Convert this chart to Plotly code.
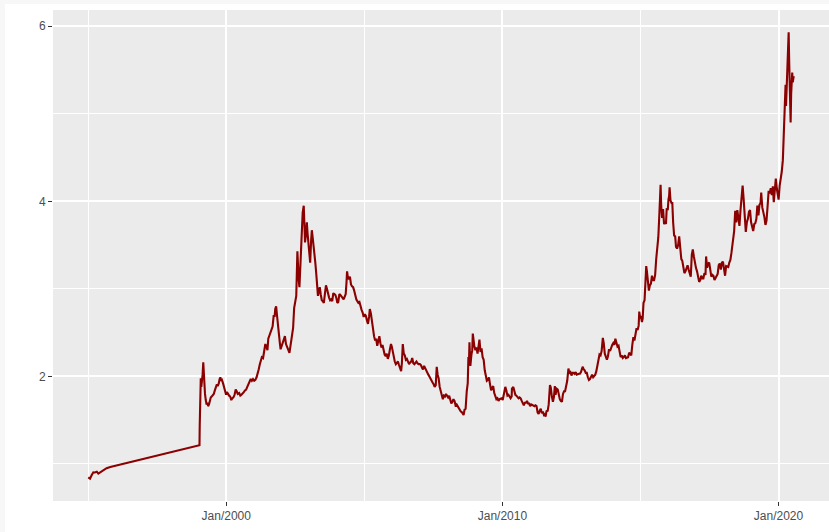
import plotly.graph_objects as go
import pandas as pd

# ---- data: USD/BRL exchange rate (date parts per year, and values) ----
years = [1995, 1999, 2000, 2001, 2002, 2003, 2004, 2005, 2006, 2007, 2008, 2009,
         2010, 2011, 2012, 2013, 2014, 2015, 2016, 2017, 2018, 2019, 2020]

days = {}
rate = {}
days[1995] = ["01-02","01-25","02-17","03-10","03-30","04-25","05-15","06-10","07-20","09-01","10-20"]
rate[1995] = [0.846,0.832,0.874,0.905,0.903,0.912,0.889,0.905,0.935,0.952,0.966]
days[1999] = ["01-04","01-12","01-15","01-20","01-29","02-05","02-12","02-22","03-03","03-10","03-18","03-26","04-05","04-16","04-28","05-06","05-18","05-28","06-10","06-22","07-05","07-20","08-03","08-16","08-30","09-10","09-24","10-05","10-15","10-25","11-05","11-20","12-03","12-15","12-30"]
rate[1999] = [1.210,1.215,1.43,1.60,1.98,1.88,1.93,2.02,2.16,2.02,1.90,1.80,1.73,1.68,1.70,1.66,1.68,1.72,1.76,1.77,1.78,1.80,1.84,1.89,1.91,1.89,1.92,1.97,1.99,1.95,1.96,1.92,1.88,1.83,1.79]
days[2000] = ["01-10","01-25","02-08","02-22","03-08","03-22","04-05","04-20","05-05","05-18","06-01","06-20","07-05","07-20","08-05","08-20","09-05","09-20","10-05","10-20","11-05","11-20","12-05","12-20"]
rate[2000] = [1.82,1.79,1.78,1.77,1.73,1.75,1.76,1.79,1.85,1.83,1.80,1.81,1.78,1.79,1.80,1.82,1.84,1.85,1.88,1.91,1.93,1.97,1.95,1.97]
days[2001] = ["01-05","01-20","02-05","02-20","03-05","03-20","04-02","04-16","05-02","05-16","06-01","06-15","06-29","07-10","07-25","08-08","08-22","09-05","09-20","10-02","10-10","10-22","11-01","11-15","11-28","12-10","12-20"]
rate[2001] = [1.95,1.96,1.99,2.03,2.08,2.14,2.18,2.22,2.21,2.32,2.37,2.34,2.30,2.43,2.47,2.50,2.52,2.57,2.70,2.68,2.77,2.80,2.71,2.56,2.50,2.38,2.31]
days[2002] = ["01-05","01-20","02-05","02-15","03-01","03-15","04-02","04-16","05-02","05-16","06-03","06-17","07-01","07-15","07-30","08-05","08-15","08-26","09-05","09-16","09-27","10-08","10-22","10-31","11-08","11-20","12-02","12-12","12-23"]
rate[2002] = [2.36,2.40,2.44,2.46,2.37,2.33,2.30,2.27,2.38,2.48,2.55,2.78,2.86,2.92,3.43,3.15,3.12,3.02,3.22,3.40,3.80,3.87,3.95,3.64,3.53,3.62,3.76,3.63,3.51]
days[2003] = ["01-06","01-15","01-28","02-06","02-18","03-03","03-12","03-24","04-03","04-15","04-28","05-12","05-22","06-05","06-18","07-01","07-15","07-30","08-12","08-25","09-08","09-22","10-06","10-20","11-03","11-17","12-01","12-15","12-29"]
rate[2003] = [3.33,3.30,3.56,3.67,3.58,3.49,3.45,3.30,3.20,2.98,2.92,2.98,3.02,2.93,2.87,2.86,2.84,2.95,3.04,3.00,2.94,2.90,2.87,2.88,2.86,2.95,2.94,2.93,2.89]
days[2004] = ["01-09","01-22","02-05","02-19","03-04","03-18","04-01","04-15","04-29","05-10","05-17","05-28","06-10","06-24","07-08","07-22","08-05","08-19","09-02","09-16","09-30","10-14","10-28","11-11","11-25","12-09","12-23"]
rate[2004] = [2.84,2.85,2.94,2.93,2.91,2.90,2.88,2.91,2.94,3.08,3.20,3.13,3.11,3.14,3.05,3.03,3.02,2.98,2.92,2.88,2.86,2.84,2.85,2.78,2.76,2.73,2.68]
days[2005] = ["01-07","01-21","02-04","02-18","03-04","03-14","03-28","04-11","04-25","05-09","05-23","06-06","06-20","07-04","07-18","08-01","08-15","08-29","09-12","09-26","10-10","10-24","11-07","11-21","12-05","12-19","12-30"]
rate[2005] = [2.71,2.69,2.64,2.60,2.68,2.77,2.72,2.61,2.53,2.46,2.41,2.43,2.35,2.40,2.46,2.38,2.33,2.36,2.30,2.25,2.23,2.26,2.20,2.24,2.31,2.37,2.34]
days[2006] = ["01-10","01-24","02-07","02-21","03-07","03-21","04-04","04-18","05-02","05-12","05-24","06-06","06-20","07-04","07-18","08-01","08-15","08-29","09-12","09-26","10-10","10-24","11-07","11-21","12-05","12-19"]
rate[2006] = [2.28,2.22,2.17,2.14,2.15,2.17,2.13,2.10,2.06,2.15,2.37,2.26,2.24,2.19,2.20,2.17,2.14,2.16,2.17,2.21,2.15,2.14,2.16,2.17,2.15,2.14]
days[2007] = ["01-05","01-19","02-02","02-16","03-02","03-16","03-30","04-13","04-27","05-11","05-25","06-08","06-22","07-06","07-20","08-03","08-16","08-28","09-10","09-24","10-08","10-22","11-05","11-19","12-03","12-17","12-31"]
rate[2007] = [2.14,2.13,2.10,2.08,2.12,2.09,2.06,2.03,2.02,2.00,1.97,1.95,1.93,1.91,1.88,1.90,2.11,2.02,1.98,1.88,1.82,1.80,1.74,1.78,1.77,1.80,1.77]
days[2008] = ["01-14","01-28","02-11","02-25","03-10","03-24","04-07","04-21","05-05","05-19","06-02","06-16","06-30","07-14","07-28","08-05","08-18","09-01","09-16","09-29","10-08","10-16","10-22","11-03","11-17","11-28","12-05","12-15","12-26"]
rate[2008] = [1.76,1.78,1.73,1.69,1.71,1.74,1.72,1.67,1.68,1.66,1.63,1.62,1.60,1.59,1.57,1.56,1.62,1.63,1.83,1.92,2.22,2.18,2.39,2.12,2.25,2.30,2.49,2.37,2.34]
days[2009] = ["01-09","01-23","02-06","02-20","03-03","03-17","03-31","04-14","04-28","05-12","05-26","06-09","06-23","07-07","07-21","08-04","08-18","09-01","09-15","09-29","10-13","10-27","11-10","11-24","12-08","12-22"]
rate[2009] = [2.30,2.33,2.26,2.40,2.42,2.28,2.32,2.22,2.19,2.07,2.02,1.95,1.96,1.99,1.91,1.84,1.87,1.89,1.81,1.78,1.74,1.75,1.72,1.74,1.75,1.75]
days[2010] = ["01-05","01-19","02-02","02-08","02-22","03-08","03-22","04-05","04-19","05-03","05-07","05-25","06-07","06-21","07-05","07-19","08-02","08-16","08-30","09-13","09-27","10-11","10-25","11-08","11-22","12-06","12-20"]
rate[2010] = [1.73,1.78,1.85,1.88,1.84,1.78,1.79,1.76,1.75,1.77,1.86,1.88,1.83,1.79,1.78,1.77,1.75,1.76,1.75,1.72,1.70,1.67,1.70,1.70,1.72,1.69,1.69]
days[2011] = ["01-03","01-17","01-31","02-14","02-28","03-14","03-28","04-11","04-25","05-09","05-23","06-06","06-20","07-04","07-18","07-26","08-08","08-22","09-05","09-22","10-03","10-17","10-31","11-14","11-25","12-05","12-19"]
rate[2011] = [1.66,1.68,1.67,1.67,1.66,1.67,1.66,1.59,1.57,1.61,1.63,1.58,1.60,1.56,1.57,1.54,1.61,1.60,1.68,1.90,1.87,1.77,1.71,1.77,1.89,1.79,1.86]
days[2012] = ["01-03","01-16","01-30","02-13","02-27","03-12","03-26","04-09","04-23","05-07","05-23","06-04","06-18","07-02","07-16","07-30","08-13","08-27","09-10","09-24","10-08","10-22","11-05","11-19","11-29","12-10","12-24"]
rate[2012] = [1.85,1.78,1.74,1.72,1.71,1.80,1.83,1.83,1.88,1.95,2.09,2.04,2.05,2.01,2.04,2.04,2.03,2.05,2.02,2.03,2.03,2.03,2.05,2.09,2.11,2.08,2.07]
days[2013] = ["01-07","01-21","02-04","02-18","03-04","03-18","04-01","04-15","04-29","05-13","05-27","06-10","06-24","07-08","07-22","08-05","08-21","09-02","09-16","09-30","10-14","10-28","11-11","11-25","12-09","12-23"]
rate[2013] = [2.04,2.04,1.99,1.96,1.97,1.99,2.02,1.99,2.00,2.02,2.06,2.14,2.22,2.25,2.24,2.29,2.44,2.38,2.26,2.21,2.19,2.23,2.31,2.29,2.34,2.36]
days[2014] = ["01-06","01-20","02-03","02-17","03-03","03-17","03-31","04-14","04-28","05-12","05-26","06-09","06-23","07-07","07-21","08-04","08-18","09-01","09-15","09-29","10-13","10-27","11-10","11-24","12-08","12-16","12-29"]
rate[2014] = [2.38,2.36,2.43,2.37,2.34,2.35,2.26,2.22,2.24,2.21,2.22,2.24,2.21,2.22,2.22,2.27,2.26,2.24,2.36,2.45,2.41,2.47,2.55,2.53,2.58,2.74,2.66]
days[2015] = ["01-06","01-20","01-30","02-10","02-24","03-05","03-18","03-27","04-08","04-22","05-05","05-19","06-02","06-16","06-30","07-14","07-28","08-11","08-25","09-08","09-17","09-24","10-02","10-14","10-27","11-09","11-23","12-04","12-14","12-28"]
rate[2015] = [2.69,2.62,2.66,2.84,2.87,3.03,3.26,3.20,3.10,2.98,3.04,3.06,3.15,3.10,3.10,3.16,3.34,3.49,3.59,3.86,3.98,4.19,3.95,3.81,3.91,3.74,3.77,3.74,3.92,3.90]
days[2016] = ["01-06","01-15","01-21","02-02","02-16","02-26","03-08","03-21","04-04","04-15","04-29","05-13","05-27","06-10","06-24","07-07","07-21","08-04","08-18","09-01","09-15","09-29","10-13","10-27","11-10","11-23","12-07","12-21"]
rate[2016] = [4.02,4.06,4.16,4.01,3.98,3.98,3.76,3.61,3.60,3.48,3.46,3.50,3.60,3.49,3.34,3.32,3.26,3.18,3.20,3.24,3.27,3.22,3.17,3.14,3.39,3.45,3.37,3.29]
days[2017] = ["01-04","01-18","02-01","02-15","03-01","03-15","03-29","04-12","04-26","05-10","05-18","05-31","06-14","06-28","07-12","07-26","08-09","08-23","09-06","09-20","10-04","10-18","11-01","11-15","11-29","12-13","12-27"]
rate[2017] = [3.24,3.20,3.13,3.08,3.10,3.15,3.12,3.12,3.18,3.16,3.37,3.24,3.29,3.30,3.22,3.14,3.16,3.15,3.10,3.12,3.14,3.17,3.27,3.29,3.22,3.30,3.31]
days[2018] = ["01-10","01-24","02-07","02-21","03-07","03-21","04-04","04-18","05-02","05-16","05-24","06-07","06-21","07-05","07-19","08-02","08-16","08-30","09-13","09-27","10-11","10-25","11-08","11-22","12-06","12-20"]
rate[2018] = [3.22,3.15,3.26,3.25,3.25,3.30,3.33,3.41,3.54,3.65,3.66,3.89,3.76,3.90,3.76,3.72,3.90,4.10,4.18,4.02,3.74,3.65,3.76,3.80,3.88,3.90]
days[2019] = ["01-03","01-17","01-31","02-14","02-28","03-14","03-27","04-10","04-24","05-08","05-17","05-31","06-14","06-28","07-12","07-26","08-09","08-23","09-06","09-20","10-04","10-18","10-30","11-13","11-26","12-10","12-23"]
rate[2019] = [3.76,3.72,3.66,3.74,3.75,3.80,3.95,3.84,3.96,3.98,4.10,3.93,3.88,3.82,3.73,3.78,3.94,4.12,4.09,4.15,4.07,4.17,3.99,4.17,4.26,4.14,4.07]
days[2020] = ["01-02","01-16","01-30","02-13","02-27","03-06","03-13","03-18","03-25","04-03","04-09","04-16","04-22","04-29","05-07","05-14","05-21","05-28","06-03","06-09","06-16","06-23","06-30","07-07","07-14","07-20"]
rate[2020] = [4.02,4.18,4.25,4.34,4.47,4.63,4.82,5.05,5.00,5.33,5.09,5.26,5.44,5.43,5.86,5.93,5.59,5.34,5.18,4.90,5.23,5.33,5.47,5.36,5.40,5.43]

dates, values = [], []
for y in years:
    assert len(days[y]) == len(rate[y]), y
    dates += [f"{y}-{md}" for md in days[y]]
    values += rate[y]
dates = pd.to_datetime(dates)

# ggplot-like 5% expansion of the data range
xmin, xmax = dates.min(), dates.max()
xpad = (xmax - xmin) * 0.05
ymin, ymax = min(values), max(values)
ypad = (ymax - ymin) * 0.05

W, H = 829, 532
L, R, T, B = 53, 0, 10, 31
pw, ph = W - L - R, H - T - B

fig = go.Figure(go.Scatter(
    x=dates, y=values, mode="lines",
    line=dict(color="#8B0000", width=2.1),
    showlegend=False,
))

tickfont = dict(family="Liberation Sans, Arial, sans-serif", size=12, color="#4D4D4D")

fig.update_layout(
    width=W, height=H,
    margin=dict(l=L, r=R, t=T, b=B),
    paper_bgcolor="white",
    plot_bgcolor="#EBEBEB",
    xaxis=dict(
        type="date",
        range=[xmin - xpad, xmax + xpad],
        tick0="2000-01-01", dtick="M120", tickformat="%b/%Y",
        showgrid=True, gridcolor="white", gridwidth=1.5,
        minor=dict(dtick="M60", showgrid=True, gridcolor="white", gridwidth=0.8),
        ticks="outside", ticklen=4, tickwidth=1, tickcolor="#333333",
        tickfont=tickfont, zeroline=False, showline=False,
    ),
    yaxis=dict(
        range=[ymin - ypad, ymax + ypad],
        tick0=0, dtick=2,
        showgrid=True, gridcolor="white", gridwidth=1.5,
        minor=dict(dtick=1, showgrid=True, gridcolor="white", gridwidth=0.8),
        ticks="outside", ticklen=4, tickwidth=1, tickcolor="#333333",
        tickfont=tickfont, zeroline=False, showline=False,
    ),
    shapes=[
        # thin light-grey border strips at top and left of the image
        dict(type="rect", xref="paper", yref="paper", layer="above",
             x0=-L / pw, x1=1 + R / pw, y0=1 + (T - 4) / ph, y1=1 + T / ph,
             fillcolor="#F7F7F7", line=dict(width=0)),
        dict(type="rect", xref="paper", yref="paper", layer="above",
             x0=-L / pw, x1=-(L - 5) / pw, y0=-B / ph, y1=1 + T / ph,
             fillcolor="#F7F7F7", line=dict(width=0)),
    ],
)

fig.write_html("out.html")
